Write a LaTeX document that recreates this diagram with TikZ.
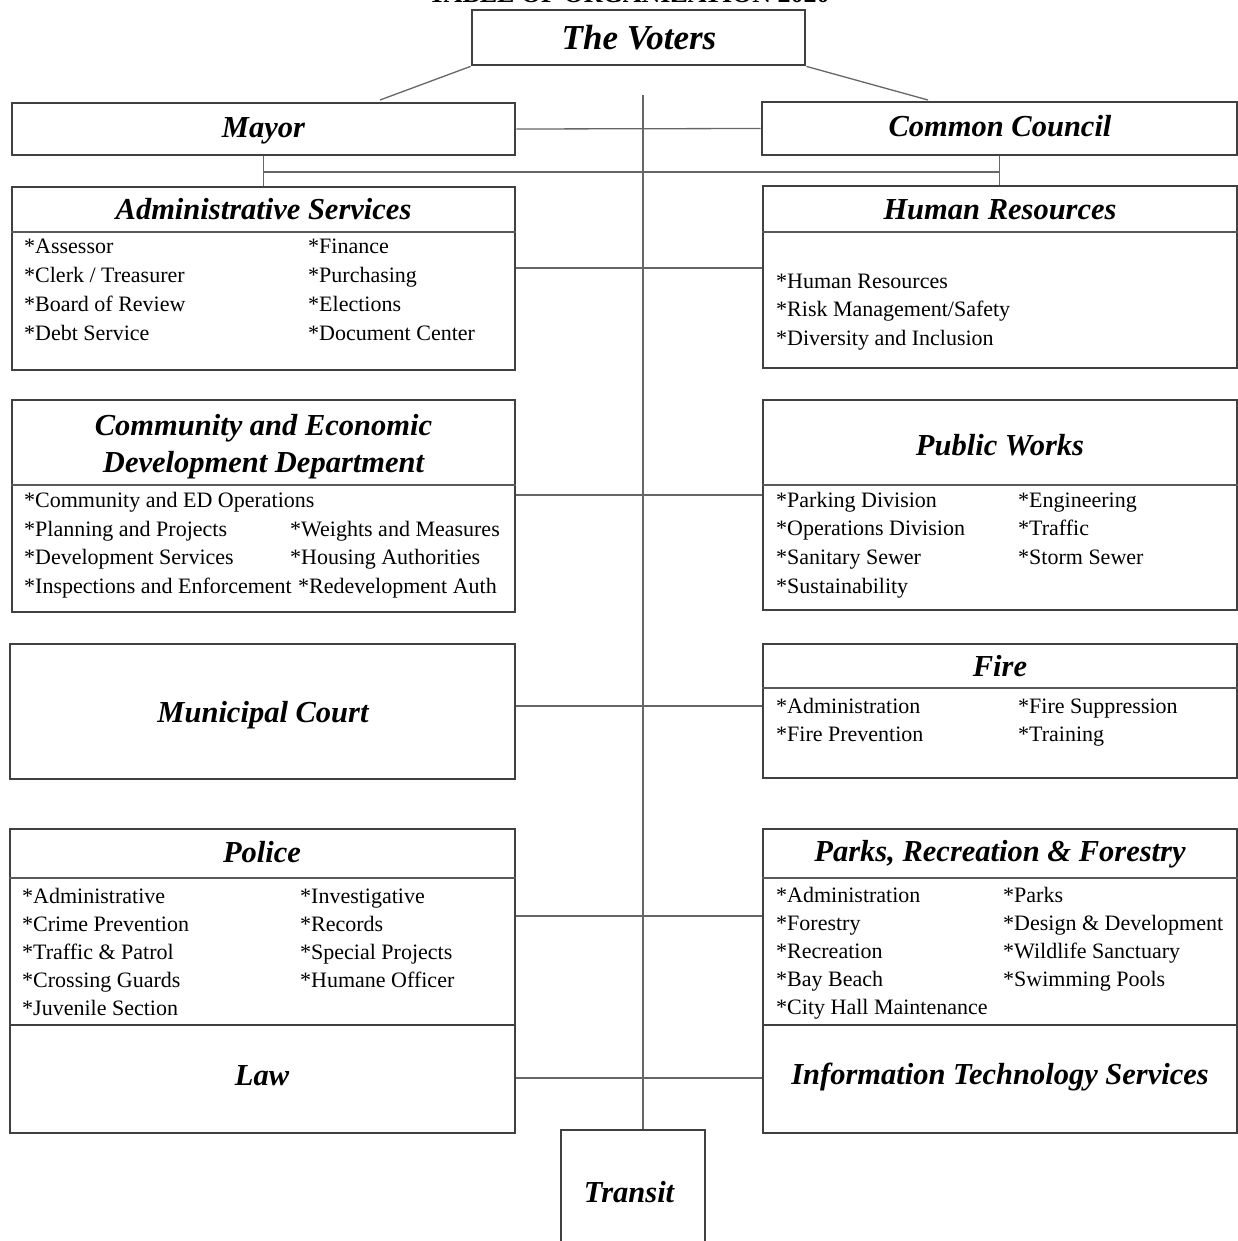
\documentclass[tikz,border=0pt]{standalone}
\usepackage{fontspec}
\setmainfont{Liberation Serif}
\begin{document}
\begin{tikzpicture}[x=1pt,y=-1pt,
  box/.style={draw=black!75,line width=2.8pt,inner sep=0pt,fill=none},
  divider/.style={draw=black!65,line width=2.4pt},
  conn/.style={draw=black!60,line width=1.3pt},
  headtext/.style={font=\fontsize{30.5}{37}\selectfont\bfseries\itshape,inner sep=0pt,align=center},
  head/.style={headtext,text height=20pt,text depth=0pt},
  item/.style={font=\fontsize{22}{28.7}\selectfont,inner sep=0pt,anchor=base west}]
\useasboundingbox (0,0) rectangle (1237,1241);
% title (cut off at the top edge, as in the original scan)
\node[font=\fontsize{26}{30}\selectfont\bfseries,anchor=base,inner sep=0pt] (title) at (629,3) {TABLE OF ORGANIZATION 2020};
% boxes
\node[box,minimum width=333pt,minimum height=55pt] (voters) at (638.5,37.5) {};
\node[headtext,font=\fontsize{35}{40}\selectfont\bfseries\itshape,text height=23pt,text depth=0pt] (votersT) at (639,38.5) {The Voters};
\node[box,minimum width=503pt,minimum height=52pt] (mayor) at (263.5,129) {};
\node[head] (mayorT) at (263.5,128) {Mayor};
\node[box,minimum width=475pt,minimum height=53pt] (council) at (999.5,128.5) {};
\node[head] (councilT) at (1000,127) {Common Council};
% Administrative services
\node[box,minimum width=503pt,minimum height=183pt] (admin) at (263.5,278.5) {};
\draw[divider] (admin.west |- 0,232) -- (admin.east |- 0,232);
\node[head] (adminT) at (263.5,210) {Administrative Services};
\foreach \t [count=\i] in {*Assessor,*Clerk / Treasurer,*Board of Review,*Debt Service}
  \node[item] (adminL\i) at (24,{254+28.7*(\i-1)}) {\t};
\foreach \t [count=\i] in {*Finance,*Purchasing,*Elections,*Document Center}
  \node[item] (adminR\i) at (308,{254+28.7*(\i-1)}) {\t};
% Human resources
\node[box,minimum width=474pt,minimum height=182pt] (hr) at (1000,277) {};
\draw[divider] (hr.west |- 0,232) -- (hr.east |- 0,232);
\node[head] (hrT) at (1000,210) {Human Resources};
\foreach \t [count=\i] in {*Human Resources,*Risk Management/Safety,*Diversity and Inclusion}
  \node[item] (hrL\i) at (776,{288+28.7*(\i-1)}) {\t};
% Community and economic development
\node[box,minimum width=503pt,minimum height=212pt] (ced) at (263.5,506) {};
\draw[divider] (ced.west |- 0,485) -- (ced.east |- 0,485);
\node[headtext] (cedT) at (263.5,447) {Community and Economic\\Development Department};
\node[item] (cedL0) at (24,507) {*Community and ED Operations};
\foreach \t [count=\i] in {*Planning and Projects,*Development Services,*Inspections and Enforcement}
  \node[item] (cedL\i) at (24,{536+28.7*(\i-1)}) {\t};
\node[item] (cedR1) at (290,536) {*Weights and Measures};
\node[item] (cedR2) at (290,564.7) {*Housing Authorities};
\node[item] (cedR3) at (298,593.4) {*Redevelopment Auth};
% Public works
\node[box,minimum width=474pt,minimum height=210pt] (pw) at (1000,505) {};
\draw[divider] (pw.west |- 0,485) -- (pw.east |- 0,485);
\node[head] (pwT) at (1000,445) {Public Works};
\foreach \t [count=\i] in {*Parking Division,*Operations Division,*Sanitary Sewer,*Sustainability}
  \node[item] (pwL\i) at (776,{507+28.7*(\i-1)}) {\t};
\foreach \t [count=\i] in {*Engineering,*Traffic,*Storm Sewer}
  \node[item] (pwR\i) at (1018,{507+28.7*(\i-1)}) {\t};
% Municipal court
\node[box,minimum width=505pt,minimum height=135pt] (court) at (262.5,711.5) {};
\node[head] (courtT) at (263,712) {Municipal Court};
% Fire
\node[box,minimum width=474pt,minimum height=134pt] (fire) at (1000,711) {};
\draw[divider] (fire.west |- 0,688) -- (fire.east |- 0,688);
\node[head] (fireT) at (1000,666) {Fire};
\foreach \t [count=\i] in {*Administration,*Fire Prevention}
  \node[item] (fireL\i) at (776,{713+28.7*(\i-1)}) {\t};
\foreach \t [count=\i] in {*Fire Suppression,*Training}
  \node[item] (fireR\i) at (1018,{713+28.7*(\i-1)}) {\t};
% Police
\node[box,minimum width=505pt,minimum height=196pt] (police) at (262.5,927) {};
\draw[divider] (police.west |- 0,878) -- (police.east |- 0,878);
\node[head] (policeT) at (262,852) {Police};
\foreach \t [count=\i] in {*Administrative,*Crime Prevention,*Traffic \& Patrol,*Crossing Guards,*Juvenile Section}
  \node[item] (policeL\i) at (22,{903+28.2*(\i-1)}) {\t};
\foreach \t [count=\i] in {*Investigative,*Records,*Special Projects,*Humane Officer}
  \node[item] (policeR\i) at (300,{903+28.2*(\i-1)}) {\t};
% Law
\node[box,minimum width=505pt,minimum height=108pt] (law) at (262.5,1079) {};
\node[head] (lawT) at (262,1075) {Law};
% Parks
\node[box,minimum width=474pt,minimum height=196pt] (parks) at (1000,927) {};
\draw[divider] (parks.west |- 0,878) -- (parks.east |- 0,878);
\node[head] (parksT) at (1000,851) {Parks, Recreation \& Forestry};
\foreach \t [count=\i] in {*Administration,*Forestry,*Recreation,*Bay Beach,*City Hall Maintenance}
  \node[item] (parksL\i) at (776,{902+28.2*(\i-1)}) {\t};
\foreach \t [count=\i] in {*Parks,*Design \& Development,*Wildlife Sanctuary,*Swimming Pools}
  \node[item] (parksR\i) at (1003,{902+28.2*(\i-1)}) {\t};
% IT
\node[box,minimum width=474pt,minimum height=108pt] (it) at (1000,1079) {};
\node[head] (itT) at (1000,1074) {Information Technology Services};
% Transit
\node[box,minimum width=144pt,minimum height=130pt] (transit) at (633,1195) {};
\node[head] (transitT) at (629,1192) {Transit};
% connectors
\coordinate (spineTop) at (643,95);
\coordinate (vl) at (380,100);
\coordinate (vr) at (928,100);
\coordinate (hbar) at (0,172);
\draw[conn] (voters.south west) -- (vl);
\draw[conn] (voters.south east) -- (vr);
\draw[conn] (spineTop) -- (transit.north -| spineTop);
\draw[conn] (mayor.east) -- (council.west);
\draw[conn] (mayor.south) -- (mayor.south |- hbar) -- (council.south |- hbar) -- (council.south);
\draw[conn] (mayor.south |- hbar) -- (admin.north -| mayor.south);
\draw[conn] (council.south |- hbar) -- (hr.north -| council.south);
\coordinate (r1) at (0,268);
\coordinate (r2) at (0,495);
\coordinate (r3) at (0,706);
\coordinate (r4) at (0,916);
\coordinate (r5) at (0,1078);
\draw[conn] (admin.east |- r1) -- (hr.west |- r1);
\draw[conn] (ced.east |- r2) -- (pw.west |- r2);
\draw[conn] (court.east |- r3) -- (fire.west |- r3);
\draw[conn] (police.east |- r4) -- (parks.west |- r4);
\draw[conn] (law.east |- r5) -- (it.west |- r5);
\end{tikzpicture}
\end{document}
